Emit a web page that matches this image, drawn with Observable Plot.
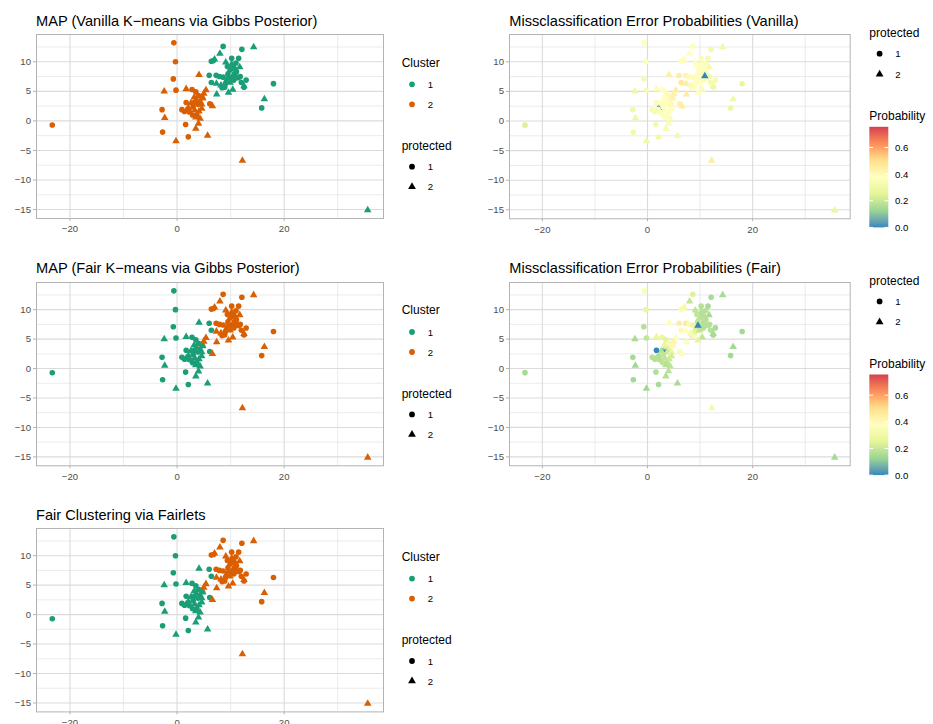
<!DOCTYPE html>
<html><head><meta charset="utf-8">
<script src="https://cdn.jsdelivr.net/npm/d3@7"></script>
<script src="https://cdn.jsdelivr.net/npm/@observablehq/plot@0.6"></script>
<style>
body{margin:0;background:#fff;font-family:"Liberation Sans",Arial,Helvetica,sans-serif;}
#root{position:relative;width:933px;height:724px;overflow:hidden;background:#fff;}
.plotbox{position:absolute;}
</style></head><body><div id="root"></div>
<script>
// ---- data ----
const xs = [-23.3,-0.6,-0.3,-0.7,-0.2,-2.4,-2.8,-2.3,-2.7,-0.2,2.1,5.7,1.6,3.5,4.0,4.3,3.7,2.9,0.9,2.1,3.2,2.8,1.7,3.5,5.4,4.7,7.4,6.1,6.6,4.1,6.0,6.4,7.3,7.35,8.4,12.2,2.6,3.0,3.6,4.3,3.9,4.6,2.3,3.3,4.1,2.0,4.8,4.0,3.2,1.4,3.5,4.6,5.0,8.6,14.3,12.1,8.0,7.0,6.4,6.8,10.2,11.5,9.1,11.0,11.7,12.9,12.5,12.5,18.0,16.3,15.8,10.4,9.6,8.9,11.8,35.6,7.9,9.8,10.3,9.5,10.5,10.0,11.1,9.2,10.6,9.0,10.2,11.3,9.9,8.6,10.8,9.4,12.0,8.2,10.9,9.6,1.7];
const ys = [-0.7,13.2,10.0,7.1,5.2,5.0,1.9,0.5,-1.9,-3.4,-2.7,-2.5,-0.6,-1.3,-0.45,0.4,1.0,1.0,1.9,2.2,3.1,5.3,5.4,4.9,5.2,4.1,4.5,2.9,2.5,7.8,7.7,6.5,7.7,6.3,5.6,-6.7,3.0,2.4,3.6,3.3,2.8,2.8,1.5,1.8,1.6,2.0,3.8,4.3,4.0,1.6,0.6,2.1,4.6,12.6,12.5,12.1,11.4,10.4,10.1,10.2,10.6,10.6,9.9,9.8,9.1,6.9,5.9,5.7,6.3,3.7,2.2,5.3,4.8,5.7,7.5,-15.1,7.5,8.5,8.9,7.9,7.8,7.2,8.3,6.8,6.9,6.2,9.6,7.2,6.5,7.4,8.9,9.2,6.5,6.0,7.6,7.3,3.1];
const protectedGroup = [1,1,1,1,1,2,1,2,1,2,1,2,1,2,2,2,1,1,1,2,1,1,2,1,2,2,2,1,2,2,1,1,1,2,1,2,2,1,2,2,1,2,1,2,2,1,2,1,2,1,2,2,2,1,2,1,2,2,1,1,1,1,2,1,2,1,2,1,1,2,1,2,2,1,1,2,1,2,1,1,2,1,1,2,1,1,2,2,2,1,2,1,1,2,2,2,1];
const clusterVanilla = [2,2,2,2,2,2,2,2,2,2,2,2,2,2,2,2,2,2,2,2,2,2,2,2,2,2,1,2,2,2,1,1,1,1,1,2,2,2,2,2,2,2,2,2,2,2,2,2,2,2,2,2,2,1,1,1,1,1,1,1,1,1,1,1,1,1,1,1,1,1,1,1,1,1,1,1,1,1,1,1,1,1,1,1,1,1,1,1,1,1,1,1,1,1,1,1,2];
const clusterFair = [1,1,1,1,1,1,1,1,1,1,1,1,1,1,1,1,1,1,1,1,1,1,1,1,2,2,2,1,2,1,1,1,2,2,2,2,1,1,1,1,1,1,1,1,1,1,1,1,1,1,1,1,2,2,2,2,2,2,2,2,2,2,2,2,2,2,2,2,2,2,2,2,2,2,2,2,2,2,2,2,2,2,2,2,2,2,2,2,2,2,2,2,2,2,2,2,1];
const clusterFairlets = [1,1,1,1,1,1,1,1,1,1,1,1,1,1,1,1,1,1,1,1,1,1,1,1,2,2,2,1,2,1,1,1,2,2,2,2,1,1,1,1,1,1,1,1,1,1,1,1,1,1,1,1,2,2,2,2,2,2,2,2,2,2,2,2,2,2,2,2,2,2,2,2,2,2,2,2,2,2,2,2,2,2,2,2,2,2,2,2,2,2,2,2,2,2,2,2,1];
const probVanilla = [0.24,0.37,0.36,0.33,0.33,0.3,0.3,0.3,0.3,0.3,0.3,0.32,0.32,0.33,0.35,0.35,0.36,0.37,0.33,0.0,0.37,0.37,0.35,0.38,0.45,0.45,0.45,0.44,0.45,0.44,0.45,0.47,0.42,0.45,0.38,0.45,0.37,0.37,0.38,0.4,0.38,0.4,0.36,0.37,0.37,0.35,0.42,0.4,0.38,0.34,0.36,0.38,0.43,0.36,0.3,0.32,0.38,0.38,0.38,0.38,0.35,0.33,0.37,0.35,0.33,0.33,0.3,0.3,0.27,0.3,0.28,0.35,0.38,0.38,0.33,0.28,0.4,0.37,0.37,0.38,0.37,0.38,0.35,0.38,0.36,0.38,0.36,0.35,0.37,0.39,0.36,0.37,0.33,0.4,0.0,0.37,0.35];
const probFair = [0.15,0.35,0.27,0.17,0.19,0.15,0.15,0.14,0.14,0.14,0.15,0.15,0.16,0.17,0.18,0.19,0.19,0.19,0.17,0.17,0.0,0.28,0.28,0.25,0.36,0.45,0.36,0.35,0.36,0.36,0.45,0.4,0.47,0.38,0.45,0.32,0.17,0.19,0.22,0.28,0.22,0.28,0.17,0.19,0.2,0.17,0.4,0.33,0.27,0.17,0.17,0.22,0.42,0.24,0.15,0.15,0.19,0.32,0.4,0.33,0.17,0.15,0.19,0.17,0.15,0.15,0.14,0.15,0.14,0.14,0.14,0.19,0.26,0.35,0.17,0.15,0.4,0.19,0.17,0.19,0.17,0.19,0.17,0.22,0.17,0.26,0.17,0.17,0.19,0.28,0.17,0.19,0.17,0.33,0.17,0.0,0.0];
const xGridMajor = [-20,0,20], xGridMinor = [-10,10,30];
const yGridMajor = [-15,-10,-5,0,5,10], yGridMinor = [-12.5,-7.5,-2.5,2.5,7.5,12.5];
const clusterLevels = [1,2], clusterColors = ["#1B9E77","#D95F02"];
const protectedLevels = [1,2], protectedShapes = ["circle","triangle"];
const probStops = [0,0.125,0.25,0.375,0.5,0.625,0.75];
const probColors = ["#3288BD","#99D594","#E6F598","#FFFFBF","#FEE08B","#FC8D59","#D53E4F"];
const probMax = 0.755;
const probTicks = [0,0.2,0.4,0.6];
const titles = ["MAP (Vanilla K\u2212means via Gibbs Posterior)","MAP (Fair K\u2212means via Gibbs Posterior)","Fair Clustering via Fairlets","Missclassification Error Probabilities (Vanilla)","Missclassification Error Probabilities (Fair)"];

// ---- layout ----
const FONT = '"Liberation Sans",Arial,Helvetica,sans-serif';
const ex = (lo,hi)=>{const d=(hi-lo)*0.05;return [lo-d,hi+d];};
const xDom = ex(d3.min(xs),d3.max(xs)), yDom = ex(d3.min(ys),d3.max(ys));
const probDomain = probStops.map(s=>s*probMax/0.75);
const panels = [
  {fl:36, fr:383, ft:34, fb:218, cl:clusterVanilla, lx:401.7},
  {fl:36, fr:383, ft:281.7, fb:465, cl:clusterFair, lx:401.7},
  {fl:36, fr:383, ft:528.3, fb:711.7, cl:clusterFairlets, lx:401.7},
  {fl:509.3, fr:850, ft:34, fb:218.3, pr:probVanilla, lx:869.3},
  {fl:509.3, fr:850, ft:281.7, fb:465, pr:probFair, lx:869.3}
];
const TICK_FS = 9.6, LEG_FS = 9.6, LEGT_FS = 12, TITLE_FS = 14.6, PT_R = 2.8;
const root = d3.select("#root");
const ov = root.append("svg").attr("width",933).attr("height",724)
  .style("position","absolute").style("left","0px").style("top","0px")
  .style("font-family",FONT);
const colorClusterOpts = {type:"ordinal", domain:clusterLevels, range:clusterColors};
const colorProbOpts = {type:"linear", domain:probDomain, range:probColors, interpolate:"lab", clamp:true};
const probScale = Plot.scale({color:colorProbOpts});
const symArea = r => Math.PI*r*r;

panels.forEach((p,k)=>{
  const data = xs.map((x,i)=>({x, y:ys[i], s:protectedGroup[i], v: p.cl ? p.cl[i] : p.pr[i]}));
  const mL=36, mT=6, mR=6, mB=22;
  const w = (p.fr-p.fl)+mL+mR, h=(p.fb-p.ft)+mT+mB;
  const chart = Plot.plot({
    width:w, height:h, marginLeft:mL, marginTop:mT, marginRight:mR, marginBottom:mB,
    x:{domain:xDom, label:null}, y:{domain:yDom, label:null},
    color: p.cl ? colorClusterOpts : colorProbOpts,
    symbol:{domain:protectedLevels, range:protectedShapes},
    style:{fontFamily:FONT, fontSize:TICK_FS+"px", background:"transparent", overflow:"visible"},
    marks:[
      Plot.gridX(xGridMinor,{x:d=>d, stroke:"#E2E2E2", strokeWidth:0.7, strokeOpacity:1}),
      Plot.gridY(yGridMinor,{y:d=>d, stroke:"#E2E2E2", strokeWidth:0.7, strokeOpacity:1}),
      Plot.gridX(xGridMajor,{x:d=>d, stroke:"#DBDBDB", strokeWidth:1.1, strokeOpacity:1}),
      Plot.gridY(yGridMajor,{y:d=>d, stroke:"#DBDBDB", strokeWidth:1.1, strokeOpacity:1}),
      Plot.dot(data,{x:"x", y:"y", symbol:"s", fill:"v", r:PT_R}),
      Plot.frame({stroke:"#B3B3B3", strokeWidth:1}),
      Plot.axisX(xGridMajor,{tickSize:3, tickPadding:4, stroke:"#B3B3B3", fill:"#4D4D4D", label:null, fontSize:TICK_FS}),
      Plot.axisY(yGridMajor,{tickSize:3, tickPadding:2.5, stroke:"#B3B3B3", fill:"#4D4D4D", label:null, fontSize:TICK_FS})
    ]
  });
  const box = root.append("div").attr("class","plotbox")
    .style("left",(p.fl-mL)+"px").style("top",(p.ft-mT)+"px");
  box.node().appendChild(chart);

  // title
  ov.append("text").attr("x",p.fl).attr("y",p.ft-8.3).attr("font-size",TITLE_FS).attr("fill","#000").text(titles[k]);

  // legends
  const g = ov.append("g");
  const keyX = p.lx+10.3, labX = p.lx+26;
  const drawSym = (y, shape, col)=>{
    g.append("path").attr("transform",`translate(${keyX},${y})`)
     .attr("d", d3.symbol().type(shape==="circle"?d3.symbolCircle:d3.symbolTriangle).size(symArea(2.9))())
     .attr("fill",col);
  };
  const lab = (y,t)=>g.append("text").attr("x",labX).attr("y",y+3.5).attr("font-size",LEG_FS).attr("fill","#000").text(t);
  if (p.cl){
    g.append("text").attr("x",p.lx).attr("y",p.ft+32.5).attr("font-size",LEGT_FS).text("Cluster");
    clusterLevels.forEach((c,j)=>{drawSym(p.ft+50.3+20*j,"circle",clusterColors[j]); lab(p.ft+50.3+20*j,String(c));});
    g.append("text").attr("x",p.lx).attr("y",p.ft+116).attr("font-size",LEGT_FS).text("protected");
    protectedLevels.forEach((c,j)=>{drawSym(p.ft+132.7+20*j,protectedShapes[j],"#000"); lab(p.ft+132.7+20*j,String(c));});
  } else {
    g.append("text").attr("x",p.lx).attr("y",p.ft+3.3).attr("font-size",LEGT_FS).text("protected");
    protectedLevels.forEach((c,j)=>{drawSym(p.ft+19.7+20.5*j,protectedShapes[j],"#000"); lab(p.ft+19.7+20.5*j,String(c));});
    g.append("text").attr("x",p.lx).attr("y",p.ft+86).attr("font-size",LEGT_FS).text("Probability");
    const bt = p.ft+92.8, bb = p.ft+193.4, bw = 19;
    const gid = "grad"+k;
    const grad = ov.append("defs").append("linearGradient").attr("id",gid)
      .attr("x1",0).attr("y1",1).attr("x2",0).attr("y2",0);
    d3.range(0,41).forEach(i=>{
      const t=i/40;
      grad.append("stop").attr("offset",t).attr("stop-color",probScale.apply(t*probMax));
    });
    g.append("rect").attr("x",p.lx).attr("y",bt).attr("width",bw).attr("height",bb-bt).attr("fill",`url(#${gid})`);
    const yb = d3.scaleLinear().domain([0,probMax]).range([bb,bt]);
    probTicks.forEach(t=>{
      const yy = yb(t);
      g.append("line").attr("x1",p.lx).attr("x2",p.lx+bw/5).attr("y1",yy).attr("y2",yy).attr("stroke","#fff").attr("stroke-width",1);
      g.append("line").attr("x1",p.lx+bw-bw/5).attr("x2",p.lx+bw).attr("y1",yy).attr("y2",yy).attr("stroke","#fff").attr("stroke-width",1);
      g.append("text").attr("x",p.lx+25.7).attr("y",yy+3.5).attr("font-size",LEG_FS).attr("fill","#000").text(d3.format(".1f")(t));
    });
  }
});
</script></body></html>
